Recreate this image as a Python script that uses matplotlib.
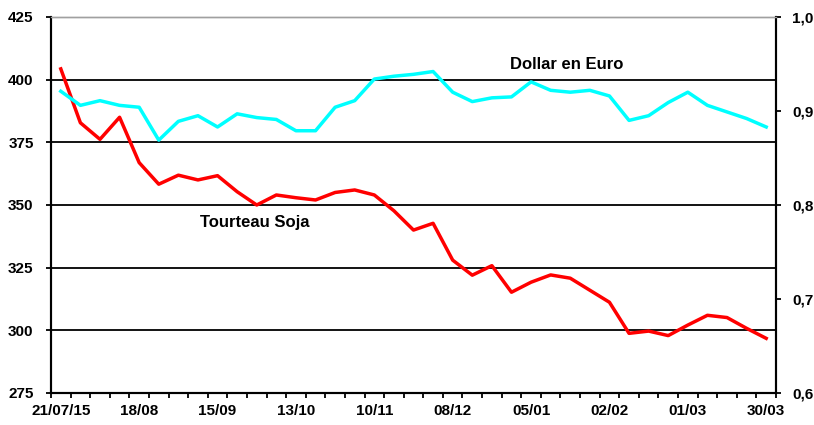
import numpy as np
import matplotlib.pyplot as plt

plt.rcParams['font.family'] = ['Liberation Sans', 'DejaVu Sans']
plt.rcParams['font.weight'] = 'bold'

# weekly dates, labelled every 4 weeks
tick_labels = ['21/07/15', '18/08', '15/09', '13/10', '10/11',
               '08/12', '05/01', '02/02', '01/03', '30/03']

# Tourteau Soja (left axis)
soja = [404.3, 382.8, 376.2, 385.0, 366.9, 358.3, 361.9, 360.0, 361.7, 355.3,
        350.0, 354.0, 352.9, 352.0, 355.0, 356.0, 354.0, 347.7, 340.0, 342.7,
        328.0, 322.0, 325.8, 315.2, 319.2, 322.1, 320.8, 316.0, 311.2, 298.8,
        299.7, 297.9, 302.1, 306.0, 305.1, 300.8, 296.8]

# Dollar en Euro (right axis)
dollar = [0.921, 0.906, 0.911, 0.906, 0.904, 0.869, 0.889, 0.895, 0.883, 0.897,
          0.893, 0.891, 0.879, 0.879, 0.904, 0.911, 0.934, 0.937, 0.939, 0.942,
          0.920, 0.910, 0.914, 0.915, 0.931, 0.922, 0.920, 0.922, 0.916, 0.890,
          0.895, 0.909, 0.920, 0.906, 0.899, 0.892, 0.883]

x = np.arange(len(soja))

fig = plt.figure(figsize=(8.14, 4.25), dpi=100)
ax = fig.add_axes([51 / 814, 32 / 425, 725 / 814, 376 / 425])
ax2 = ax.twinx()

for y in [300, 325, 350, 375, 400]:
    ax.axhline(y, color='black', lw=1.3, zorder=1)

ax.plot(x, soja, color='#ff0000', lw=2.5, zorder=3)
ax2.plot(x, dollar, color='#00ffff', lw=2.5, zorder=3)

ax.set_xlim(-0.5, len(soja) - 0.5)
ax.set_ylim(275, 425)
ax2.set_ylim(0.6, 1.0)

ax.set_yticks([275, 300, 325, 350, 375, 400, 425])
ax2.set_yticks([0.6, 0.7, 0.8, 0.9, 1.0])
ax2.set_yticklabels(['0,6', '0,7', '0,8', '0,9', '1,0'])

ax.set_xticks(x[::4])
ax.set_xticklabels(tick_labels)
ax.set_xticks(np.arange(-0.5, len(soja), 1), minor=True)
ax.tick_params(axis='x', which='major', length=0, pad=8, labelsize=11)
ax.tick_params(axis='x', which='minor', length=3.5, width=1.3, direction='out')
ax.tick_params(axis='y', length=3.5, width=1.3, labelsize=11, pad=9)
ax2.tick_params(axis='y', length=3.5, width=1.3, labelsize=11, pad=8)

for a in (ax, ax2):
    a.spines['top'].set_color('#a0a0a0')
    a.spines['top'].set_linewidth(1.0)
    for s in ('left', 'right', 'bottom'):
        a.spines[s].set_linewidth(1.5)

ax.text(25.8, 405.9, 'Dollar en Euro', fontsize=12, fontweight='bold', ha='center', va='center')
ax.text(9.9, 343.2, 'Tourteau Soja', fontsize=12, fontweight='bold', ha='center', va='center')

fig.savefig('out.png', dpi=100)
